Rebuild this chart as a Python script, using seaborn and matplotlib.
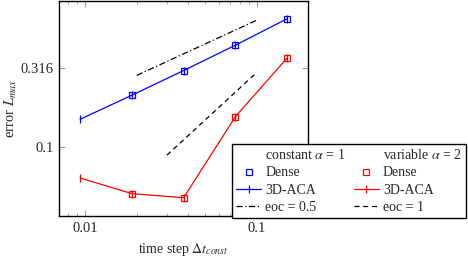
import numpy as np
import pandas as pd
import seaborn as sns
import matplotlib.pyplot as plt
from matplotlib.lines import Line2D
from matplotlib.ticker import FixedLocator, LogLocator, NullLocator, NullFormatter

# time steps
dt_dense = [0.01875, 0.0375, 0.075, 0.15]
dt_aca = [0.009375, 0.01875, 0.0375, 0.075, 0.15]

# constant alpha = 1
err_const_dense = [0.213, 0.305, 0.441, 0.648]
err_const_aca = [0.150, 0.213, 0.305, 0.441, 0.648]

# variable alpha = 2
err_var_dense = [0.0508, 0.0479, 0.156, 0.366]
err_var_aca = [0.0638, 0.0508, 0.0479, 0.156, 0.366]

# reference slopes
eoc05_x = [0.02, 0.1]
eoc05_y = [0.284, 0.635]
eoc1_x = [0.03, 0.1]
eoc1_y = [0.089, 0.297]

sns.set_style('ticks')
plt.rcParams['font.family'] = ['Liberation Serif', 'DejaVu Serif']
plt.rcParams['mathtext.fontset'] = 'stix'
plt.rcParams['font.size'] = 10
plt.rcParams['xtick.direction'] = 'in'
plt.rcParams['ytick.direction'] = 'in'

fig = plt.figure(figsize=(4.68, 2.59), dpi=100)
ax = fig.add_axes([59 / 468, 1 - 216 / 259, (307.5 - 59) / 468, (215.5) / 259])

blue = '#0000ff'
red = '#ff0000'
lw = 0.9
dashdot = (0, (5, 2, 1, 2))
dashed = (0, (4, 3))

sns.lineplot(x=eoc05_x, y=eoc05_y, ax=ax, color='black', linewidth=lw, linestyle=dashdot)
sns.lineplot(x=eoc1_x, y=eoc1_y, ax=ax, color='black', linewidth=lw, linestyle=dashed)

sns.lineplot(x=dt_aca, y=err_const_aca, ax=ax, color=blue, linewidth=lw,
             marker='|', markersize=6, markeredgewidth=0.9, markeredgecolor=blue)
sns.lineplot(x=dt_aca, y=err_var_aca, ax=ax, color=red, linewidth=lw,
             marker='|', markersize=6, markeredgewidth=0.9, markeredgecolor=red)
ax.plot(dt_dense, err_const_dense, linestyle='none', marker='s', markersize=4.5,
        markerfacecolor='none', markeredgecolor=blue, markeredgewidth=0.9)
ax.plot(dt_dense, err_var_dense, linestyle='none', marker='s', markersize=4.5,
        markerfacecolor='none', markeredgecolor=red, markeredgewidth=0.9)

ax.set_xscale('log')
ax.set_yscale('log')
ax.set_xlim(0.00706, 0.197)
ax.set_ylim(0.0367, 0.845)

ax.xaxis.set_major_locator(FixedLocator([0.01, 0.1]))
ax.set_xticklabels(['0.01', '0.1'])
ax.xaxis.set_minor_locator(LogLocator(base=10, subs=np.arange(2, 10)))
ax.xaxis.set_minor_formatter(NullFormatter())
ax.yaxis.set_major_locator(FixedLocator([0.1, 0.316]))
ax.set_yticklabels(['0.1', '0.316'])
ax.yaxis.set_minor_locator(NullLocator())

ax.tick_params(which='both', top=True, right=True, color='#888888')
ax.tick_params(which='major', length=4, width=0.6, labelsize=10.5, pad=4)
ax.tick_params(which='minor', length=2.5, width=0.5)
for s in ax.spines.values():
    s.set_linewidth(1.0)
    s.set_color('black')

ax.set_xlabel(r'time step $\Delta t_{const}$', fontsize=10)
ax.set_ylabel(r'error $L_{max}$', fontsize=10.5)
ax.xaxis.set_label_coords(0.5, -0.116)
ax.yaxis.set_label_coords(-0.16, 0.5)

blank = Line2D([], [], linestyle='none', marker='none')
handles = [
    blank,
    Line2D([], [], linestyle='none', marker='s', markersize=4.5, markerfacecolor='none',
           markeredgecolor=blue, markeredgewidth=0.9),
    Line2D([], [], color=blue, linewidth=lw, marker='|', markersize=6, markeredgewidth=0.9),
    Line2D([], [], color='black', linewidth=lw, linestyle=dashdot),
    blank,
    Line2D([], [], linestyle='none', marker='s', markersize=4.5, markerfacecolor='none',
           markeredgecolor=red, markeredgewidth=0.9),
    Line2D([], [], color=red, linewidth=lw, marker='|', markersize=6, markeredgewidth=0.9),
    Line2D([], [], color='black', linewidth=lw, linestyle=dashed),
]
labels = [r'constant $\alpha$ = 1', 'Dense', '3D-ACA', 'eoc = 0.5',
          r'variable $\alpha$ = 2', 'Dense', '3D-ACA', 'eoc = 1']
leg = fig.legend(handles, labels, ncol=2, loc='lower right',
                 bbox_to_anchor=(466 / 468, 1 - 218 / 259), borderaxespad=0,
                 fontsize=10, frameon=True, fancybox=False, framealpha=1,
                 edgecolor='black', handlelength=1.8, handletextpad=0.3,
                 columnspacing=0.6, labelspacing=0.3, borderpad=0.3)
leg.get_frame().set_linewidth(1.0)

fig.savefig('out.png', dpi=100)
